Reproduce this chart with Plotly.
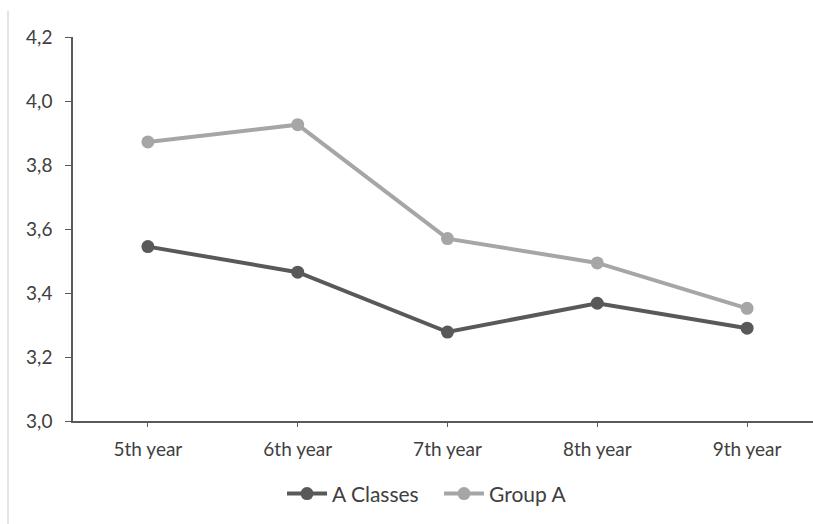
import plotly.graph_objects as go

years = ["5th year", "6th year", "7th year", "8th year", "9th year"]
a_classes = [3.545, 3.465, 3.278, 3.368, 3.290]
group_a = [3.872, 3.926, 3.570, 3.494, 3.352]
y_ticks = [3.0, 3.2, 3.4, 3.6, 3.8, 4.0, 4.2]

dark = "#595959"
light = "#A6A6A6"
font_family = "Lato, 'Open Sans', sans-serif"

fig = go.Figure()
fig.add_trace(go.Scatter(
    x=years, y=a_classes, name="A Classes", mode="lines+markers",
    line=dict(color=dark, width=4), marker=dict(color=dark, size=13),
))
fig.add_trace(go.Scatter(
    x=years, y=group_a, name="Group A", mode="lines+markers",
    line=dict(color=light, width=4), marker=dict(color=light, size=13),
))

fig.update_layout(
    width=813, height=524,
    margin=dict(l=73, r=0, t=37, b=103),
    paper_bgcolor="white", plot_bgcolor="white",
    separators=",.",
    font=dict(family=font_family, size=19, color="#404040"),
    showlegend=True,
    legend=dict(
        orientation="h", x=0.4946, xanchor="center", y=-0.19, yanchor="middle",
        font=dict(size=21, color="#404040"), itemwidth=40,
        entrywidth=102,
    ),
    xaxis=dict(
        type="category", range=[-0.5, 4.44],
        showline=True, linecolor=dark, linewidth=1.5,
        ticks="outside", ticklen=4, tickcolor=dark,
        showgrid=False, zeroline=False,
        tickfont=dict(size=19, color="#404040"),
        ticklabelstandoff=6,
    ),
    yaxis=dict(
        range=[3.0, 4.2], tickvals=y_ticks, tickformat=".1f",
        showline=True, linecolor=dark, linewidth=1.5,
        ticks="outside", ticklen=6, tickcolor=dark,
        showgrid=False, zeroline=False,
        tickfont=dict(size=19, color="#404040"),
        ticklabelstandoff=9,
    ),
    shapes=[dict(
        type="line", xref="paper", yref="paper",
        x0=(8 - 73) / 740, x1=(8 - 73) / 740, y0=(421 - 11) / 384, y1=-103 / 384,
        line=dict(color="#DADADA", width=1.5),
    )],
)

fig.write_html("out.html")
